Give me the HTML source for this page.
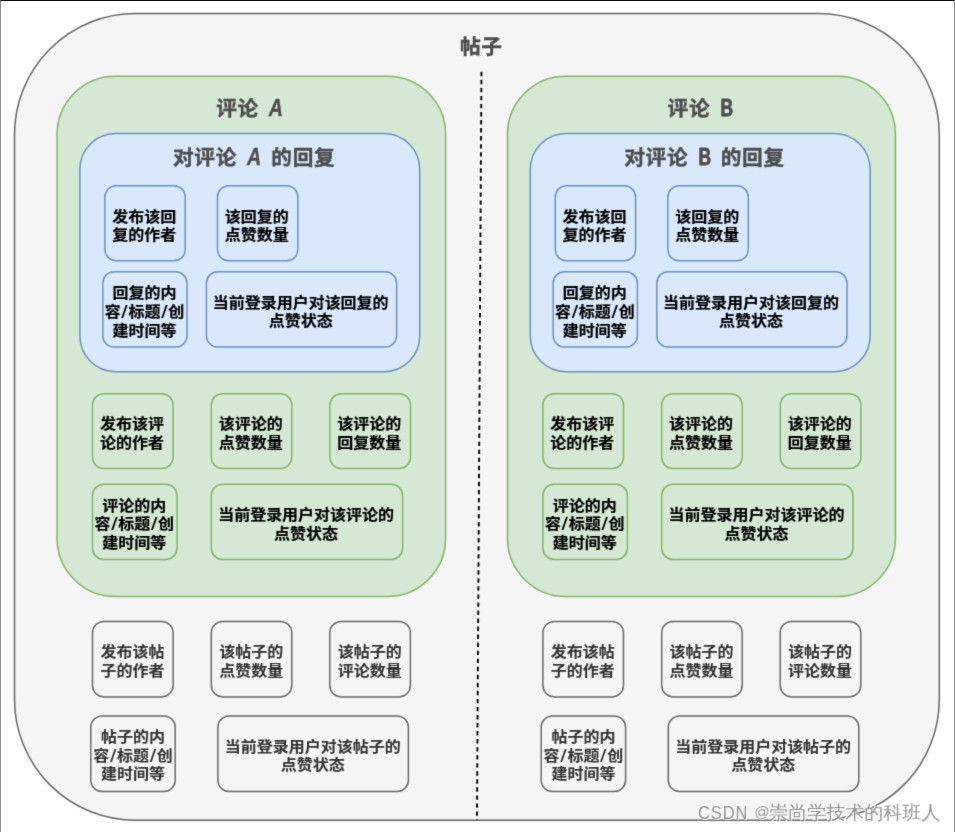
<!DOCTYPE html>
<html lang="zh-CN">
<head>
<meta charset="utf-8">
<title>帖子 / 评论 / 回复 数据结构</title>
<style>
html, body { margin: 0; padding: 0; background: #ffffff; }
body { width: 955px; height: 832px; overflow: hidden; position: relative; font-family: "Liberation Sans", "Noto Sans CJK SC", sans-serif; }
#frame { position: absolute; left: 0; top: 0; width: 955px; height: 832px; box-sizing: border-box;
  border-top: 1px solid #0a0a0c; border-left: 1px solid #8c8c8c; border-right: 1px solid #8c8c8c; }
#stage { position: absolute; left: 0; top: 0; width: 955px; height: 832px; filter: url(#soft); }
svg { position: absolute; left: 0; top: 0; display: block; }
svg text { font-family: "Liberation Sans", "Noto Sans CJK SC", sans-serif; font-weight: 700; text-anchor: middle; }
svg text.t { font-size: 16px; stroke-width: 0.2px; stroke-linejoin: round; }
svg text.g { stroke-width: 0.08px; }
svg text.h { font-size: 20.7px; letter-spacing: 0.7px; stroke: #4d4d4d; stroke-width: 0.4px; stroke-linejoin: round; }
svg .sl { font-family: "DejaVu Sans", "Liberation Sans", sans-serif; font-size: 17.5px; letter-spacing: 0.7px; font-weight: 700; stroke-width: 0; }
svg .lt { font-size: 23.5px; letter-spacing: 0; stroke-width: 0.8px; }
svg .ltA { font-style: italic; stroke-width: 0.35px; }
.wm { position: absolute; left: 698.3px; top: 799.6px; font-family: "Liberation Sans", "WenQuanYi Zen Hei", "Noto Sans CJK SC", sans-serif; font-size: 19px; line-height: 26px;
  color: rgba(40,40,40,0.52); white-space: nowrap;
  text-shadow: -0.8px -0.8px 0.5px rgba(255,255,255,1), 0.8px 0.8px 0.5px rgba(255,255,255,0.85), 0 0 1.5px rgba(255,255,255,0.9); }
.wm .en { display: inline-block; font-size: 18.3px; letter-spacing: 1.0px; transform: scaleX(0.9); transform-origin: 0 50%; margin-right: -5.9px; }
.wm .at { display: inline-block; font-size: 15.2px; margin-left: 0.8px; margin-right: -0.4px; position: relative; top: -1.2px; }
</style>
</head>
<body>
<svg width="0" height="0" style="position:absolute;left:0;top:0" aria-hidden="true">
<defs>
<filter id="soft" x="0" y="0" width="100%" height="100%" color-interpolation-filters="sRGB">
<feConvolveMatrix order="3" kernelMatrix="0.0144 0.0912 0.0144 0.0912 0.5776 0.0912 0.0144 0.0912 0.0144" divisor="1" edgeMode="duplicate" preserveAlpha="false"/>
</filter>
</defs>
</svg>
<div id="frame"></div>
<div id="stage">
<svg width="955" height="832" viewBox="0 0 955 832">
<rect x="14.50" y="13.50" width="924.80" height="806.80" rx="121.02" ry="121.02" fill="#f5f5f5" stroke="#666666" stroke-width="1.5"/>
<rect x="57.10" y="76.20" width="388.50" height="520.30" rx="58.27" ry="58.27" fill="#d5e8d4" stroke="#82b366" stroke-width="1.5"/>
<rect x="79.90" y="133.50" width="339.80" height="238.30" rx="35.74" ry="35.74" fill="#dae8fc" stroke="#6c8ebf" stroke-width="1.5"/>
<rect x="104.90" y="185.80" width="80.30" height="75.00" rx="11.25" ry="11.25" fill="#dae8fc" stroke="#6c8ebf" stroke-width="1.48"/>
<text class="t" transform="translate(144.20 215.75) scale(1 0.95)" x="0" y="6.16" fill="#000" stroke="#000">发布该回</text>
<text class="t" transform="translate(144.20 234.35) scale(1 0.95)" x="0" y="6.16" fill="#000" stroke="#000">复的作者</text>
<rect x="217.50" y="185.80" width="80.40" height="75.00" rx="11.25" ry="11.25" fill="#dae8fc" stroke="#6c8ebf" stroke-width="1.48"/>
<text class="t" transform="translate(256.85 215.75) scale(1 0.95)" x="0" y="6.16" fill="#000" stroke="#000">该回复的</text>
<text class="t" transform="translate(256.85 234.35) scale(1 0.95)" x="0" y="6.16" fill="#000" stroke="#000">点赞数量</text>
<rect x="102.80" y="271.80" width="84.20" height="75.20" rx="11.28" ry="11.28" fill="#dae8fc" stroke="#6c8ebf" stroke-width="1.48"/>
<text class="t" transform="translate(144.45 292.55) scale(1 0.95)" x="0" y="6.16" fill="#000" stroke="#000">回复的内</text>
<text class="t" transform="translate(144.45 311.15) scale(1 0.95)" x="0" y="6.16" fill="#000" stroke="#000">容<tspan class="sl" dx="0.7">/</tspan>标题<tspan class="sl" dx="0.7">/</tspan>创</text>
<text class="t" transform="translate(144.45 329.75) scale(1 0.95)" x="0" y="6.16" fill="#000" stroke="#000">建时间等</text>
<rect x="206.40" y="271.80" width="190.20" height="75.20" rx="11.28" ry="11.28" fill="#dae8fc" stroke="#6c8ebf" stroke-width="1.48"/>
<text class="t" transform="translate(300.65 301.85) scale(1 0.95)" x="0" y="6.16" fill="#000" stroke="#000">当前登录用户对该回复的</text>
<text class="t" transform="translate(300.65 320.45) scale(1 0.95)" x="0" y="6.16" fill="#000" stroke="#000">点赞状态</text>
<rect x="92.50" y="393.70" width="80.60" height="74.90" rx="11.24" ry="11.24" fill="#d5e8d4" stroke="#82b366" stroke-width="1.48"/>
<text class="t" transform="translate(131.95 423.60) scale(1 0.95)" x="0" y="6.16" fill="#000" stroke="#000">发布该评</text>
<text class="t" transform="translate(131.95 442.20) scale(1 0.95)" x="0" y="6.16" fill="#000" stroke="#000">论的作者</text>
<rect x="211.30" y="393.70" width="80.50" height="74.90" rx="11.24" ry="11.24" fill="#d5e8d4" stroke="#82b366" stroke-width="1.48"/>
<text class="t" transform="translate(250.70 423.60) scale(1 0.95)" x="0" y="6.16" fill="#000" stroke="#000">该评论的</text>
<text class="t" transform="translate(250.70 442.20) scale(1 0.95)" x="0" y="6.16" fill="#000" stroke="#000">点赞数量</text>
<rect x="329.90" y="393.70" width="80.60" height="74.90" rx="11.24" ry="11.24" fill="#d5e8d4" stroke="#82b366" stroke-width="1.48"/>
<text class="t" transform="translate(369.35 423.60) scale(1 0.95)" x="0" y="6.16" fill="#000" stroke="#000">该评论的</text>
<text class="t" transform="translate(369.35 442.20) scale(1 0.95)" x="0" y="6.16" fill="#000" stroke="#000">回复数量</text>
<rect x="92.50" y="484.30" width="84.50" height="75.10" rx="11.26" ry="11.26" fill="#d5e8d4" stroke="#82b366" stroke-width="1.48"/>
<text class="t" transform="translate(134.30 505.00) scale(1 0.95)" x="0" y="6.16" fill="#000" stroke="#000">评论的内</text>
<text class="t" transform="translate(134.30 523.60) scale(1 0.95)" x="0" y="6.16" fill="#000" stroke="#000">容<tspan class="sl" dx="0.7">/</tspan>标题<tspan class="sl" dx="0.7">/</tspan>创</text>
<text class="t" transform="translate(134.30 542.20) scale(1 0.95)" x="0" y="6.16" fill="#000" stroke="#000">建时间等</text>
<rect x="211.30" y="484.30" width="191.30" height="75.10" rx="11.26" ry="11.26" fill="#d5e8d4" stroke="#82b366" stroke-width="1.48"/>
<text class="t" transform="translate(306.10 514.30) scale(1 0.95)" x="0" y="6.16" fill="#000" stroke="#000">当前登录用户对该评论的</text>
<text class="t" transform="translate(306.10 532.90) scale(1 0.95)" x="0" y="6.16" fill="#000" stroke="#000">点赞状态</text>
<rect x="92.50" y="621.50" width="80.60" height="75.40" rx="11.31" ry="11.31" fill="#f5f5f5" stroke="#666666" stroke-width="1.48"/>
<text class="t g" transform="translate(132.40 651.10) scale(1 0.95)" x="0" y="6.16" fill="#333" stroke="#333">发布该帖</text>
<text class="t g" transform="translate(132.40 669.70) scale(1 0.95)" x="0" y="6.16" fill="#333" stroke="#333">子的作者</text>
<rect x="211.30" y="621.50" width="80.50" height="75.40" rx="11.31" ry="11.31" fill="#f5f5f5" stroke="#666666" stroke-width="1.48"/>
<text class="t g" transform="translate(251.15 651.10) scale(1 0.95)" x="0" y="6.16" fill="#333" stroke="#333">该帖子的</text>
<text class="t g" transform="translate(251.15 669.70) scale(1 0.95)" x="0" y="6.16" fill="#333" stroke="#333">点赞数量</text>
<rect x="329.80" y="621.50" width="80.60" height="75.40" rx="11.31" ry="11.31" fill="#f5f5f5" stroke="#666666" stroke-width="1.48"/>
<text class="t g" transform="translate(369.70 651.10) scale(1 0.95)" x="0" y="6.16" fill="#333" stroke="#333">该帖子的</text>
<text class="t g" transform="translate(369.70 669.70) scale(1 0.95)" x="0" y="6.16" fill="#333" stroke="#333">评论数量</text>
<rect x="90.80" y="716.00" width="84.40" height="75.60" rx="11.34" ry="11.34" fill="#f5f5f5" stroke="#666666" stroke-width="1.48"/>
<text class="t g" transform="translate(133.00 736.40) scale(1 0.95)" x="0" y="6.16" fill="#333" stroke="#333">帖子的内</text>
<text class="t g" transform="translate(133.00 755.00) scale(1 0.95)" x="0" y="6.16" fill="#333" stroke="#333">容<tspan class="sl" dx="0.7">/</tspan>标题<tspan class="sl" dx="0.7">/</tspan>创</text>
<text class="t g" transform="translate(133.00 773.60) scale(1 0.95)" x="0" y="6.16" fill="#333" stroke="#333">建时间等</text>
<rect x="217.90" y="716.00" width="190.50" height="75.60" rx="11.34" ry="11.34" fill="#f5f5f5" stroke="#666666" stroke-width="1.48"/>
<text class="t g" transform="translate(312.75 745.70) scale(1 0.95)" x="0" y="6.16" fill="#333" stroke="#333">当前登录用户对该帖子的</text>
<text class="t g" transform="translate(312.75 764.30) scale(1 0.95)" x="0" y="6.16" fill="#333" stroke="#333">点赞状态</text>
<text class="h" y="115.9" fill="#4d4d4d"><tspan x="240.80">评论</tspan> <tspan class="lt ltA" textLength="14.2" lengthAdjust="spacingAndGlyphs" x="275.90">A</tspan></text>
<text class="h" y="165.2" fill="#4d4d4d"><tspan x="208.30">对评论</tspan> <tspan class="lt ltA" textLength="14.2" lengthAdjust="spacingAndGlyphs" x="257.40">A</tspan> <tspan x="303.40">的回复</tspan></text>
<rect x="507.50" y="76.20" width="387.90" height="520.30" rx="58.18" ry="58.18" fill="#d5e8d4" stroke="#82b366" stroke-width="1.5"/>
<rect x="530.30" y="133.50" width="339.80" height="238.30" rx="35.74" ry="35.74" fill="#dae8fc" stroke="#6c8ebf" stroke-width="1.5"/>
<rect x="555.30" y="185.80" width="80.30" height="75.00" rx="11.25" ry="11.25" fill="#dae8fc" stroke="#6c8ebf" stroke-width="1.48"/>
<text class="t" transform="translate(594.60 215.75) scale(1 0.95)" x="0" y="6.16" fill="#000" stroke="#000">发布该回</text>
<text class="t" transform="translate(594.60 234.35) scale(1 0.95)" x="0" y="6.16" fill="#000" stroke="#000">复的作者</text>
<rect x="667.90" y="185.80" width="80.40" height="75.00" rx="11.25" ry="11.25" fill="#dae8fc" stroke="#6c8ebf" stroke-width="1.48"/>
<text class="t" transform="translate(707.25 215.75) scale(1 0.95)" x="0" y="6.16" fill="#000" stroke="#000">该回复的</text>
<text class="t" transform="translate(707.25 234.35) scale(1 0.95)" x="0" y="6.16" fill="#000" stroke="#000">点赞数量</text>
<rect x="553.20" y="271.80" width="84.20" height="75.20" rx="11.28" ry="11.28" fill="#dae8fc" stroke="#6c8ebf" stroke-width="1.48"/>
<text class="t" transform="translate(594.85 292.55) scale(1 0.95)" x="0" y="6.16" fill="#000" stroke="#000">回复的内</text>
<text class="t" transform="translate(594.85 311.15) scale(1 0.95)" x="0" y="6.16" fill="#000" stroke="#000">容<tspan class="sl" dx="0.7">/</tspan>标题<tspan class="sl" dx="0.7">/</tspan>创</text>
<text class="t" transform="translate(594.85 329.75) scale(1 0.95)" x="0" y="6.16" fill="#000" stroke="#000">建时间等</text>
<rect x="656.80" y="271.80" width="190.20" height="75.20" rx="11.28" ry="11.28" fill="#dae8fc" stroke="#6c8ebf" stroke-width="1.48"/>
<text class="t" transform="translate(751.05 301.85) scale(1 0.95)" x="0" y="6.16" fill="#000" stroke="#000">当前登录用户对该回复的</text>
<text class="t" transform="translate(751.05 320.45) scale(1 0.95)" x="0" y="6.16" fill="#000" stroke="#000">点赞状态</text>
<rect x="542.90" y="393.70" width="80.60" height="74.90" rx="11.24" ry="11.24" fill="#d5e8d4" stroke="#82b366" stroke-width="1.48"/>
<text class="t" transform="translate(582.35 423.60) scale(1 0.95)" x="0" y="6.16" fill="#000" stroke="#000">发布该评</text>
<text class="t" transform="translate(582.35 442.20) scale(1 0.95)" x="0" y="6.16" fill="#000" stroke="#000">论的作者</text>
<rect x="661.70" y="393.70" width="80.50" height="74.90" rx="11.24" ry="11.24" fill="#d5e8d4" stroke="#82b366" stroke-width="1.48"/>
<text class="t" transform="translate(701.10 423.60) scale(1 0.95)" x="0" y="6.16" fill="#000" stroke="#000">该评论的</text>
<text class="t" transform="translate(701.10 442.20) scale(1 0.95)" x="0" y="6.16" fill="#000" stroke="#000">点赞数量</text>
<rect x="780.30" y="393.70" width="80.60" height="74.90" rx="11.24" ry="11.24" fill="#d5e8d4" stroke="#82b366" stroke-width="1.48"/>
<text class="t" transform="translate(819.75 423.60) scale(1 0.95)" x="0" y="6.16" fill="#000" stroke="#000">该评论的</text>
<text class="t" transform="translate(819.75 442.20) scale(1 0.95)" x="0" y="6.16" fill="#000" stroke="#000">回复数量</text>
<rect x="542.90" y="484.30" width="84.50" height="75.10" rx="11.26" ry="11.26" fill="#d5e8d4" stroke="#82b366" stroke-width="1.48"/>
<text class="t" transform="translate(584.70 505.00) scale(1 0.95)" x="0" y="6.16" fill="#000" stroke="#000">评论的内</text>
<text class="t" transform="translate(584.70 523.60) scale(1 0.95)" x="0" y="6.16" fill="#000" stroke="#000">容<tspan class="sl" dx="0.7">/</tspan>标题<tspan class="sl" dx="0.7">/</tspan>创</text>
<text class="t" transform="translate(584.70 542.20) scale(1 0.95)" x="0" y="6.16" fill="#000" stroke="#000">建时间等</text>
<rect x="661.70" y="484.30" width="191.30" height="75.10" rx="11.26" ry="11.26" fill="#d5e8d4" stroke="#82b366" stroke-width="1.48"/>
<text class="t" transform="translate(756.50 514.30) scale(1 0.95)" x="0" y="6.16" fill="#000" stroke="#000">当前登录用户对该评论的</text>
<text class="t" transform="translate(756.50 532.90) scale(1 0.95)" x="0" y="6.16" fill="#000" stroke="#000">点赞状态</text>
<rect x="542.90" y="621.50" width="80.60" height="75.40" rx="11.31" ry="11.31" fill="#f5f5f5" stroke="#666666" stroke-width="1.48"/>
<text class="t g" transform="translate(582.80 651.10) scale(1 0.95)" x="0" y="6.16" fill="#333" stroke="#333">发布该帖</text>
<text class="t g" transform="translate(582.80 669.70) scale(1 0.95)" x="0" y="6.16" fill="#333" stroke="#333">子的作者</text>
<rect x="661.70" y="621.50" width="80.50" height="75.40" rx="11.31" ry="11.31" fill="#f5f5f5" stroke="#666666" stroke-width="1.48"/>
<text class="t g" transform="translate(701.55 651.10) scale(1 0.95)" x="0" y="6.16" fill="#333" stroke="#333">该帖子的</text>
<text class="t g" transform="translate(701.55 669.70) scale(1 0.95)" x="0" y="6.16" fill="#333" stroke="#333">点赞数量</text>
<rect x="780.20" y="621.50" width="80.60" height="75.40" rx="11.31" ry="11.31" fill="#f5f5f5" stroke="#666666" stroke-width="1.48"/>
<text class="t g" transform="translate(820.10 651.10) scale(1 0.95)" x="0" y="6.16" fill="#333" stroke="#333">该帖子的</text>
<text class="t g" transform="translate(820.10 669.70) scale(1 0.95)" x="0" y="6.16" fill="#333" stroke="#333">评论数量</text>
<rect x="541.20" y="716.00" width="84.40" height="75.60" rx="11.34" ry="11.34" fill="#f5f5f5" stroke="#666666" stroke-width="1.48"/>
<text class="t g" transform="translate(583.40 736.40) scale(1 0.95)" x="0" y="6.16" fill="#333" stroke="#333">帖子的内</text>
<text class="t g" transform="translate(583.40 755.00) scale(1 0.95)" x="0" y="6.16" fill="#333" stroke="#333">容<tspan class="sl" dx="0.7">/</tspan>标题<tspan class="sl" dx="0.7">/</tspan>创</text>
<text class="t g" transform="translate(583.40 773.60) scale(1 0.95)" x="0" y="6.16" fill="#333" stroke="#333">建时间等</text>
<rect x="668.30" y="716.00" width="190.50" height="75.60" rx="11.34" ry="11.34" fill="#f5f5f5" stroke="#666666" stroke-width="1.48"/>
<text class="t g" transform="translate(763.15 745.70) scale(1 0.95)" x="0" y="6.16" fill="#333" stroke="#333">当前登录用户对该帖子的</text>
<text class="t g" transform="translate(763.15 764.30) scale(1 0.95)" x="0" y="6.16" fill="#333" stroke="#333">点赞状态</text>
<text class="h" y="115.9" fill="#4d4d4d"><tspan x="692.20">评论</tspan> <tspan class="lt ltB" textLength="12.6" lengthAdjust="spacingAndGlyphs" x="726.70">B</tspan></text>
<text class="h" y="165.2" fill="#4d4d4d"><tspan x="659.45">对评论</tspan> <tspan class="lt ltB" textLength="12.6" lengthAdjust="spacingAndGlyphs" x="708.10">B</tspan> <tspan x="752.75">的回复</tspan></text>
<text class="h" x="481.3" y="53.5" fill="#4d4d4d">帖子</text>
<line x1="481.45" y1="71.8" x2="476.95" y2="820.2" stroke="#000" stroke-width="1.9" stroke-dasharray="4.4 3.64"/>
</svg>
<div class="wm"><span class="en">CSDN</span> <span class="at">@</span>崇尚学技术的科班人</div>
</div>
</body>
</html>
